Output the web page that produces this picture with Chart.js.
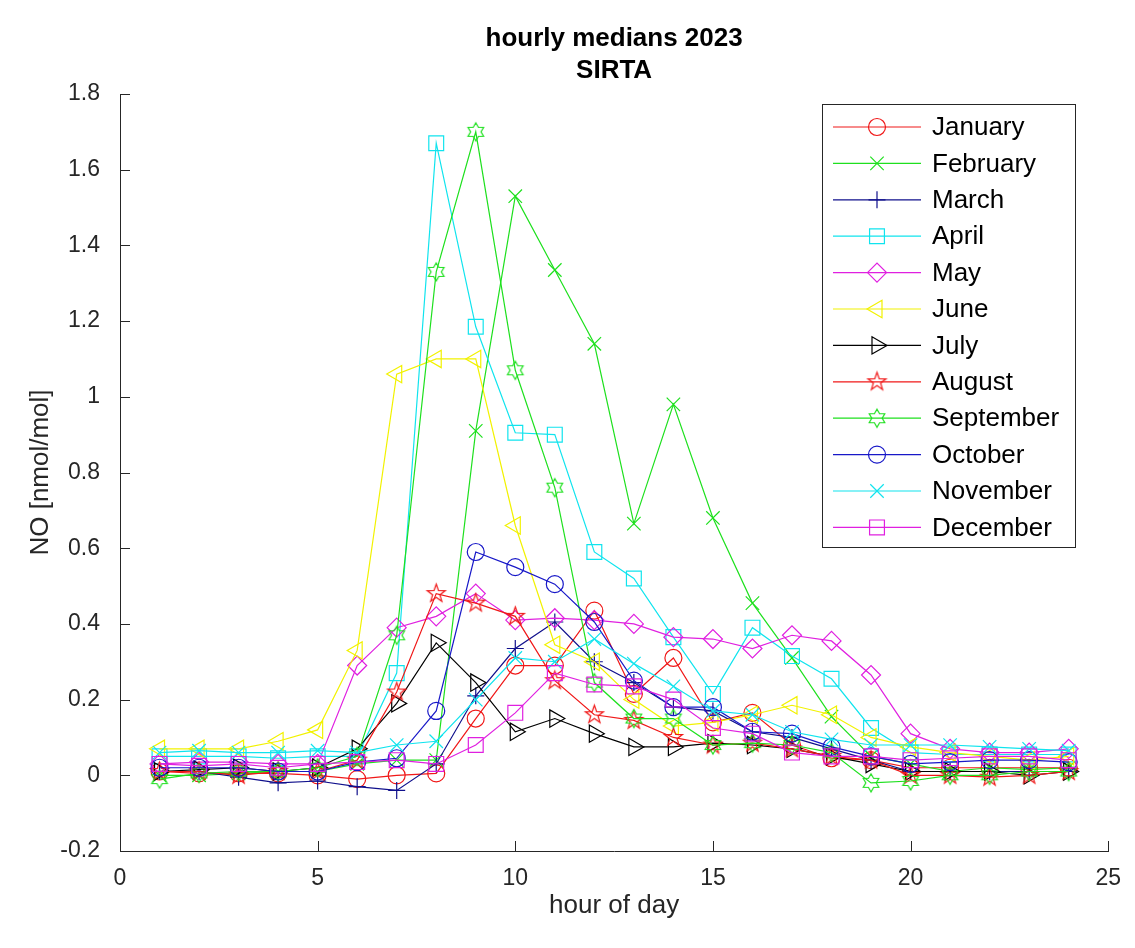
<!DOCTYPE html>
<html>
<head>
<meta charset="utf-8">
<title>hourly medians 2023 SIRTA</title>
<script src="https://cdn.jsdelivr.net/npm/chart.js@4/dist/chart.umd.min.js"></script>
<style>
  html, body { margin: 0; padding: 0; background: #ffffff; }
  #wrap { width: 1135px; height: 948px; }
</style>
</head>
<body>
<div id="wrap"><canvas id="c" width="1135" height="948"></canvas></div>
<script>
// ---- data: hourly NO medians (nmol/mol), one array per month ----
const hours = [1, 2, 3, 4, 5, 6, 7, 8, 9, 10, 11, 12, 13, 14, 15, 16, 17, 18, 19, 20, 21, 22, 23, 24];
const months = ['January', 'February', 'March', 'April', 'May', 'June', 'July', 'August', 'September', 'October', 'November', 'December'];

const january   = [0.01, 0.005, 0.005, 0.005, 0.0, -0.01, 0.0, 0.005, 0.15, 0.29, 0.29, 0.435, 0.215, 0.31, 0.14, 0.165, 0.08, 0.045, 0.04, 0.02, 0.02, 0.02, 0.02, 0.02];
const february  = [0.0, 0.0, 0.005, 0.01, 0.01, 0.03, 0.04, 0.04, 0.91, 1.53, 1.335, 1.14, 0.665, 0.98, 0.68, 0.455, 0.31, 0.155, 0.05, 0.03, 0.01, 0.02, 0.015, 0.02];
const march     = [0.01, 0.01, -0.005, -0.02, -0.015, -0.03, -0.04, 0.03, 0.21, 0.335, 0.405, 0.30, 0.245, 0.18, 0.17, 0.115, 0.10, 0.07, 0.04, 0.01, 0.01, 0.01, 0.01, 0.01];
const april     = [0.05, 0.05, 0.05, 0.045, 0.05, 0.05, 0.27, 1.67, 1.185, 0.905, 0.90, 0.59, 0.52, 0.365, 0.215, 0.39, 0.315, 0.255, 0.125, 0.06, 0.055, 0.055, 0.055, 0.055];
const may       = [0.03, 0.035, 0.035, 0.03, 0.03, 0.29, 0.39, 0.42, 0.48, 0.41, 0.415, 0.41, 0.40, 0.365, 0.36, 0.335, 0.37, 0.355, 0.265, 0.11, 0.07, 0.06, 0.06, 0.07];
const june      = [0.07, 0.07, 0.07, 0.09, 0.12, 0.33, 1.06, 1.10, 1.10, 0.66, 0.345, 0.30, 0.20, 0.13, 0.14, 0.16, 0.185, 0.16, 0.10, 0.075, 0.06, 0.05, 0.04, 0.05];
const july      = [0.01, 0.015, 0.02, 0.01, 0.02, 0.07, 0.19, 0.35, 0.245, 0.115, 0.15, 0.11, 0.075, 0.075, 0.085, 0.08, 0.07, 0.05, 0.03, 0.01, 0.01, 0.01, 0.0, 0.01];
const august    = [0.01, 0.01, 0.0, 0.01, 0.01, 0.04, 0.22, 0.48, 0.455, 0.42, 0.25, 0.16, 0.145, 0.10, 0.08, 0.085, 0.07, 0.05, 0.04, 0.0, 0.0, -0.005, 0.0, 0.01];
const september = [-0.01, 0.005, 0.01, 0.01, 0.02, 0.05, 0.37, 1.33, 1.70, 1.07, 0.76, 0.245, 0.15, 0.15, 0.08, 0.085, 0.08, 0.06, -0.02, -0.015, 0.0, 0.0, 0.01, 0.01];
const october   = [0.02, 0.02, 0.02, 0.01, 0.01, 0.035, 0.045, 0.17, 0.59, 0.55, 0.505, 0.405, 0.25, 0.18, 0.18, 0.115, 0.11, 0.075, 0.05, 0.03, 0.035, 0.04, 0.04, 0.035];
const november  = [0.06, 0.065, 0.06, 0.06, 0.065, 0.06, 0.08, 0.09, 0.20, 0.31, 0.30, 0.36, 0.295, 0.235, 0.17, 0.16, 0.115, 0.095, 0.08, 0.08, 0.08, 0.075, 0.07, 0.065];
const december  = [0.03, 0.025, 0.03, 0.02, 0.03, 0.035, 0.04, 0.03, 0.08, 0.165, 0.27, 0.24, 0.235, 0.20, 0.125, 0.11, 0.06, 0.05, 0.05, 0.04, 0.045, 0.05, 0.05, 0.04];

const xTicks = [0, 5, 10, 15, 20, 25];
const yTicks = [-0.2, 0, 0.2, 0.4, 0.6, 0.8, 1, 1.2, 1.4, 1.6, 1.8];
const yTickLabels = ['-0.2', '0', '0.2', '0.4', '0.6', '0.8', '1', '1.2', '1.4', '1.6', '1.8'];

const titleLines = ['hourly medians 2023', 'SIRTA'];
const xTitle = 'hour of day';
const yTitle = 'NO [nmol/mol]';

// ---- styling ----
const FONT = '"Liberation Sans", Arial, Helvetica, sans-serif';
const AXIS_COLOR = '#262626';
const LW = 1.2;

const series = [january, february, march, april, may, june, july, august, september, october, november, december];
const colors = ['#f01818', '#1ee01e', '#10108c', '#10e4ee', '#e020e0', '#f2f200', '#000000', '#f01818', '#1ee01e', '#1818c8', '#10e4ee', '#e020e0'];

// outline star marker drawn on its own little canvas
function starMarker(points, rOut, rIn, color) {
  const pad = 2;
  const size = Math.ceil(2 * rOut + 2 * pad);
  const cv = document.createElement('canvas');
  cv.width = size; cv.height = size;
  const g = cv.getContext('2d');
  const c = size / 2;
  g.beginPath();
  for (let i = 0; i < 2 * points; i++) {
    const r = i % 2 === 0 ? rOut : rIn;
    const a = -Math.PI / 2 + i * Math.PI / points;
    const px = c + r * Math.cos(a), py = c + r * Math.sin(a);
    if (i === 0) g.moveTo(px, py); else g.lineTo(px, py);
  }
  g.closePath();
  g.strokeStyle = color;
  g.lineWidth = LW;
  g.stroke();
  return cv;
}

const markers = [
  { style: 'circle', radius: 8.5, rotation: 0 },
  { style: 'crossRot', radius: 9.5, rotation: 0 },
  { style: 'cross', radius: 8.5, rotation: 0 },
  { style: 'rect', radius: 10.5, rotation: 0 },
  { style: 'rectRot', radius: 9.5, rotation: 0 },
  { style: 'triangle', radius: 10, rotation: -90 },
  { style: 'triangle', radius: 10, rotation: 90 },
  { style: starMarker(5, 9.5, 3.8, colors[7]), radius: 9, rotation: 0 },
  { style: starMarker(6, 9, 5.2, colors[8]), radius: 9, rotation: 0 },
  { style: 'circle', radius: 8.5, rotation: 0 },
  { style: 'crossRot', radius: 9.5, rotation: 0 },
  { style: 'rect', radius: 10.5, rotation: 0 }
];

const datasets = series.map((vals, i) => ({
  label: months[i],
  data: hours.map((h, k) => ({ x: h, y: vals[k] })),
  borderColor: colors[i],
  borderWidth: LW,
  backgroundColor: 'rgba(0,0,0,0)',
  pointStyle: markers[i].style,
  pointRadius: markers[i].radius,
  pointHoverRadius: markers[i].radius,
  pointRotation: markers[i].rotation,
  pointBorderColor: colors[i],
  pointBackgroundColor: 'rgba(0,0,0,0)',
  pointBorderWidth: LW,
  tension: 0,
  fill: false,
  order: series.length - i
}));

// inward tick marks on the left and bottom axes
const innerTicks = {
  id: 'innerTicks',
  afterDatasetsDraw(chart) {
    const { ctx, chartArea: a, scales: { x, y } } = chart;
    ctx.save();
    ctx.strokeStyle = AXIS_COLOR;
    ctx.lineWidth = 1;
    ctx.beginPath();
    xTicks.forEach(v => {
      const px = Math.round(x.getPixelForValue(v)) + 0.5;
      ctx.moveTo(px, a.bottom);
      ctx.lineTo(px, a.bottom - 10);
    });
    yTicks.forEach(v => {
      const py = Math.round(y.getPixelForValue(v)) + 0.5;
      ctx.moveTo(a.left, py);
      ctx.lineTo(a.left + 10, py);
    });
    ctx.stroke();
    ctx.restore();
  }
};

// two-line bold title above the axes
const titleBlock = {
  id: 'titleBlock',
  afterDraw(chart) {
    const { ctx, chartArea: a } = chart;
    ctx.save();
    ctx.fillStyle = '#000000';
    ctx.font = 'bold 26px ' + FONT;
    ctx.textAlign = 'center';
    ctx.textBaseline = 'middle';
    const cx = (a.left + a.right) / 2;
    titleLines.forEach((t, i) => ctx.fillText(t, cx, 39 + i * 32));
    ctx.restore();
  }
};

function drawMarker(ctx, m, color, x, y) {
  ctx.save();
  ctx.strokeStyle = color;
  ctx.fillStyle = 'rgba(0,0,0,0)';
  ctx.lineWidth = LW;
  if (Chart.helpers && Chart.helpers.drawPoint) {
    Chart.helpers.drawPoint(ctx, { pointStyle: m.style, rotation: m.rotation, radius: m.radius, borderWidth: LW }, x, y);
  }
  ctx.restore();
}

// boxed legend with line + marker samples
const boxLegend = {
  id: 'boxLegend',
  afterDraw(chart) {
    const { ctx } = chart;
    const box = { x: 822.5, y: 104.5, w: 253, h: 443 };
    ctx.save();
    ctx.fillStyle = '#ffffff';
    ctx.fillRect(box.x, box.y, box.w, box.h);
    ctx.strokeStyle = AXIS_COLOR;
    ctx.lineWidth = 1;
    ctx.strokeRect(box.x, box.y, box.w, box.h);
    ctx.font = '26px ' + FONT;
    ctx.textBaseline = 'middle';
    ctx.textAlign = 'left';
    months.forEach((name, i) => {
      const yy = 127 + i * 36.4;
      ctx.strokeStyle = colors[i];
      ctx.lineWidth = LW;
      ctx.beginPath();
      ctx.moveTo(833, yy);
      ctx.lineTo(921, yy);
      ctx.stroke();
      drawMarker(ctx, markers[i], colors[i], 877, yy);
      ctx.fillStyle = '#000000';
      ctx.fillText(name, 932, yy + 1);
    });
    ctx.restore();
  }
};

new Chart(document.getElementById('c'), {
  type: 'line',
  data: { datasets },
  options: {
    responsive: false,
    animation: false,
    devicePixelRatio: 1,
    layout: { padding: { left: 0, top: 94, right: 22, bottom: 0 } },
    plugins: { legend: { display: false }, title: { display: false }, tooltip: { enabled: false } },
    scales: {
      x: {
        type: 'linear',
        min: 0, max: 25,
        afterBuildTicks: s => { s.ticks = xTicks.map(v => ({ value: v })); },
        afterFit: s => { s.height = 97; },
        grid: { display: false, drawTicks: false },
        border: { display: true, color: AXIS_COLOR, width: 1 },
        ticks: { color: AXIS_COLOR, font: { family: FONT, size: 23 }, padding: 14, maxRotation: 0, autoSkip: false },
        title: { display: true, text: xTitle, color: AXIS_COLOR, font: { family: FONT, size: 26 }, padding: { top: 27, bottom: 27 } }
      },
      y: {
        type: 'linear',
        min: -0.2, max: 1.8,
        afterBuildTicks: s => { s.ticks = yTicks.map(v => ({ value: v })); },
        afterFit: s => { s.width = 120; },
        grid: { display: false, drawTicks: false },
        border: { display: true, color: AXIS_COLOR, width: 1 },
        ticks: {
          color: AXIS_COLOR, font: { family: FONT, size: 23 }, padding: 20, autoSkip: false,
          callback: (v) => { const k = yTicks.findIndex(t => Math.abs(t - v) < 1e-9); return k >= 0 ? yTickLabels[k] : ''; }
        },
        title: { display: true, text: yTitle, color: AXIS_COLOR, font: { family: FONT, size: 26 }, padding: { top: 25, bottom: 0 } }
      }
    }
  },
  plugins: [innerTicks, titleBlock, boxLegend]
});
</script>
</body>
</html>
